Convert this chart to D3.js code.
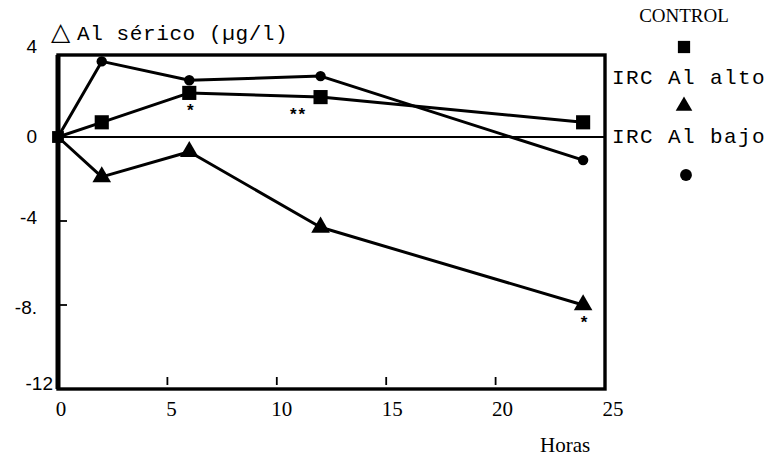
<!DOCTYPE html>
<html>
<head>
<meta charset="utf-8">
<script src="https://cdn.jsdelivr.net/npm/d3@7"></script>
<style>
  body { margin: 0; background: #fff; }
  svg { display: block; }
</style>
</head>
<body>
<script>
// values
var horas = [0, 2, 6, 12, 24];
var control = [0, 0.7, 2.1, 1.9, 0.7];
var ircAlto = [0, -1.9, -0.7, -4.3, -8.0];
var ircBajo = [0, 3.6, 2.7, 2.9, -1.1];

var xTicks = [0, 5, 10, 15, 20, 25];
var yTicks = [4, 0, -4, -8, -12];
var yTickLabels = ['4', '0', '-4', '-8.', '-12'];

// significance marks: series, time, label
var sigSeries = ['control', 'control', 'alto'];
var sigTimes = [6, 12, 24];
var sigLabels = ['*', '**', '*'];

var W = 772, H = 476;
var mono = '"Liberation Mono", "DejaVu Sans Mono", monospace';
var serif = '"Liberation Serif", "DejaVu Serif", serif';
var sans = '"Liberation Sans", Arial, sans-serif';

var svg = d3.select('body').append('svg')
    .attr('width', W)
    .attr('height', H);

var x = d3.scaleLinear().domain([0, 25]).range([58, 605]);
var y = d3.scaleLinear().domain([-12, 4]).range([389, 53]);

// frame
svg.append('rect')
    .attr('x', x(0)).attr('y', 55)
    .attr('width', x(25) - x(0)).attr('height', y(-12) - 55)
    .attr('fill', 'none').attr('stroke', '#000').attr('stroke-width', 3.4);
svg.append('line')
    .attr('x1', x(0)).attr('x2', x(0))
    .attr('y1', 55).attr('y2', y(-12))
    .attr('stroke', '#000').attr('stroke-width', 5);

// zero line
svg.append('line')
    .attr('x1', x(0)).attr('x2', x(25))
    .attr('y1', y(0)).attr('y2', y(0))
    .attr('stroke', '#000').attr('stroke-width', 2.2);

// inner ticks
svg.selectAll('.xt').data(xTicks.slice(1, -1)).enter().append('line')
    .attr('x1', function(d) { return x(d); })
    .attr('x2', function(d) { return x(d); })
    .attr('y1', y(-12) - 4).attr('y2', y(-12) - 12)
    .attr('stroke', '#000').attr('stroke-width', 1.8);
svg.selectAll('.yt').data([-4, -8]).enter().append('line')
    .attr('x1', x(0)).attr('x2', x(0) + 9)
    .attr('y1', function(d) { return y(d); })
    .attr('y2', function(d) { return y(d); })
    .attr('stroke', '#000').attr('stroke-width', 1.8);

// tick labels
svg.selectAll('.xl').data(xTicks).enter().append('text')
    .attr('x', function(d) { return x(d) + 3 + d * 0.2; })
    .attr('y', 416)
    .attr('text-anchor', 'middle')
    .style('font', '21px ' + serif)
    .text(function(d) { return d; });

var yDy = [0, 6, 3, 9, 1];
svg.selectAll('.yl').data(yTicks).enter().append('text')
    .attr('x', function(d, i) { return i === 4 ? 53 : 37; })
    .attr('y', function(d, i) { return y(d) + yDy[i]; })
    .attr('text-anchor', 'end')
    .style('font', '19px ' + sans)
    .text(function(d, i) { return yTickLabels[i]; });

// axis titles
svg.append('text')
    .attr('x', 51).attr('y', 40)
    .style('font', '25px ' + sans)
    .text('\u25B3');
svg.append('text')
    .attr('x', 77).attr('y', 40)
    .style('font', '21px ' + mono)
    .style('letter-spacing', '0.6px')
    .text('Al sérico (µg/l)');
svg.append('text')
    .attr('x', 540).attr('y', 452)
    .style('font', '21px ' + serif)
    .text('Horas');

// series lines
var line = d3.line()
    .x(function(d) { return x(d[0]); })
    .y(function(d) { return y(d[1]); });

function pairs(vals) { return horas.map(function(h, i) { return [h, vals[i]]; }); }

[control, ircAlto, ircBajo].forEach(function(vals) {
    svg.append('path')
        .datum(pairs(vals))
        .attr('d', line)
        .attr('fill', 'none')
        .attr('stroke', '#000')
        .attr('stroke-width', 3)
        .attr('stroke-linejoin', 'round');
});

var sqSym = d3.symbol().type(d3.symbolSquare).size(200);
var triSym = d3.symbol().type(d3.symbolTriangle).size(150);
var cirSym = d3.symbol().type(d3.symbolCircle).size(85);

function marks(vals, sym) {
    svg.selectAll(null).data(pairs(vals).slice(1)).enter().append('path')
        .attr('d', sym)
        .attr('transform', function(d) { return 'translate(' + x(d[0]) + ',' + y(d[1]) + ')'; })
        .attr('fill', '#000');
}
marks(ircBajo, cirSym);
marks(ircAlto, triSym);
marks(control, sqSym);
// origin point shared by all series
svg.append('path')
    .attr('d', d3.symbol().type(d3.symbolSquare).size(140))
    .attr('transform', 'translate(' + x(0) + ',' + y(0) + ')')
    .attr('fill', '#000');

// significance marks
var seriesVals = { control: control, alto: ircAlto };
sigTimes.forEach(function(t, i) {
    var v = seriesVals[sigSeries[i]][horas.indexOf(t)];
    var dx = sigLabels[i] === '**' ? -22 : 2;
    svg.append('text')
        .attr('x', x(t) + dx)
        .attr('y', y(v) + 23)
        .attr('text-anchor', 'middle')
        .style('font', 'bold 17px ' + sans)
        .style('letter-spacing', '2px')
        .text(sigLabels[i]);
});

// legend
var lx = 684;
svg.append('text')
    .attr('x', lx).attr('y', 22)
    .attr('text-anchor', 'middle')
    .style('font', '19px ' + serif)
    .text('CONTROL');
svg.append('path').attr('d', d3.symbol().type(d3.symbolSquare).size(150))
    .attr('transform', 'translate(' + lx + ',47)').attr('fill', '#000');
svg.append('text')
    .attr('x', 612).attr('y', 84)
    .style('font', '21px ' + mono)
    .style('letter-spacing', '1.4px')
    .text('IRC Al alto');
svg.append('path').attr('d', d3.symbol().type(d3.symbolTriangle).size(120))
    .attr('transform', 'translate(' + lx + ',106)').attr('fill', '#000');
svg.append('text')
    .attr('x', 612).attr('y', 143)
    .style('font', '21px ' + mono)
    .style('letter-spacing', '1.4px')
    .text('IRC Al bajo');
svg.append('path').attr('d', d3.symbol().type(d3.symbolCircle).size(110))
    .attr('transform', 'translate(' + (lx + 2) + ',175)').attr('fill', '#000');
</script>
</body>
</html>
